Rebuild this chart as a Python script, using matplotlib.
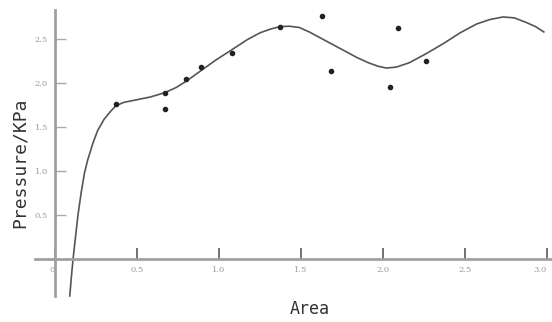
import matplotlib.pyplot as plt
import numpy as np

# measured points
area = [0.37, 0.67, 0.67, 0.80, 0.89, 1.08, 1.37, 1.63, 1.68, 2.04, 2.09, 2.26]
pressure = [1.76, 1.89, 1.70, 2.05, 2.18, 2.34, 2.64, 2.76, 2.14, 1.95, 2.63, 2.25]

# fitted curve
fit_x = [0.09, 0.10, 0.11, 0.125, 0.14, 0.16, 0.18, 0.20, 0.23, 0.26, 0.30, 0.34, 0.37,
         0.42, 0.50, 0.58, 0.67, 0.74, 0.80, 0.89, 0.98, 1.08, 1.17, 1.25, 1.31, 1.37,
         1.43, 1.49, 1.55, 1.65, 1.76, 1.84, 1.91, 1.97, 2.02, 2.08, 2.16, 2.26, 2.37,
         2.47, 2.57, 2.65, 2.73, 2.80, 2.87, 2.93, 2.98]
fit_y = [-0.42, -0.20, 0.00, 0.25, 0.50, 0.76, 0.98, 1.13, 1.31, 1.46, 1.59, 1.68, 1.74,
         1.78, 1.81, 1.84, 1.89, 1.95, 2.02, 2.14, 2.26, 2.38, 2.49, 2.57, 2.61, 2.64,
         2.645, 2.63, 2.58, 2.48, 2.37, 2.29, 2.23, 2.19, 2.17, 2.18, 2.23, 2.33, 2.45,
         2.57, 2.67, 2.72, 2.75, 2.74, 2.69, 2.64, 2.58]

xticks = [0, 0.5, 1.0, 1.5, 2.0, 2.5, 3.0]
xtick_labels = ['0', '0.5', '1.0', '1.5', '2.0', '2.5', '3.0']
yticks = [0.5, 1.0, 1.5, 2.0, 2.5]
ytick_labels = ['0.5', '1.0', '1.5', '2.0', '2.5']

fig = plt.figure(figsize=(5.52, 3.22), dpi=100)
ax = fig.add_axes([35 / 552, 22 / 322, 517 / 552, 295 / 322])

ax.plot(fit_x, fit_y, color='#555555', linewidth=1.2)
ax.plot(area, pressure, 'o', color='#222222', markersize=3)

ax.set_xlim(-0.122, 3.03)
ax.set_ylim(-0.466, 2.886)

for side in ['top', 'right']:
    ax.spines[side].set_visible(False)
ax.spines['left'].set_position(('data', 0))
ax.spines['bottom'].set_position(('data', 0))
ax.spines['left'].set_bounds(-0.42, 2.83)
ax.spines['bottom'].set_bounds(-0.12, 3.03)
for side in ['left', 'bottom']:
    ax.spines[side].set_color('#a0a0a0')
    ax.spines[side].set_linewidth(2)

ax.set_xticks(xticks)
ax.set_xticklabels(xtick_labels, family='DejaVu Serif')
ax.set_yticks(yticks)
ax.set_yticklabels(ytick_labels, family='DejaVu Serif')
ax.tick_params(axis='x', direction='in', length=8, width=1.3, color='#666666',
               labelsize=6, labelcolor='#999999', pad=5)
ax.tick_params(axis='y', direction='in', length=8, width=1.0, color='#aaaaaa',
               labelsize=6, labelcolor='#999999', pad=5)
xl = ax.get_xticklabels()
xl[0].set_horizontalalignment('right')
xl[-1].set_horizontalalignment('right')

fig.text(20 / 552, 1 - 163 / 322, 'Pressure/KPa', rotation=90, ha='center', va='center',
         fontsize=13, color='#333333', family='DejaVu Sans Mono')
fig.text(310 / 552, 1 - 309 / 322, 'Area', ha='center', va='center',
         fontsize=12, color='#333333', family='DejaVu Sans Mono')

fig.savefig('out.png', dpi=100)
